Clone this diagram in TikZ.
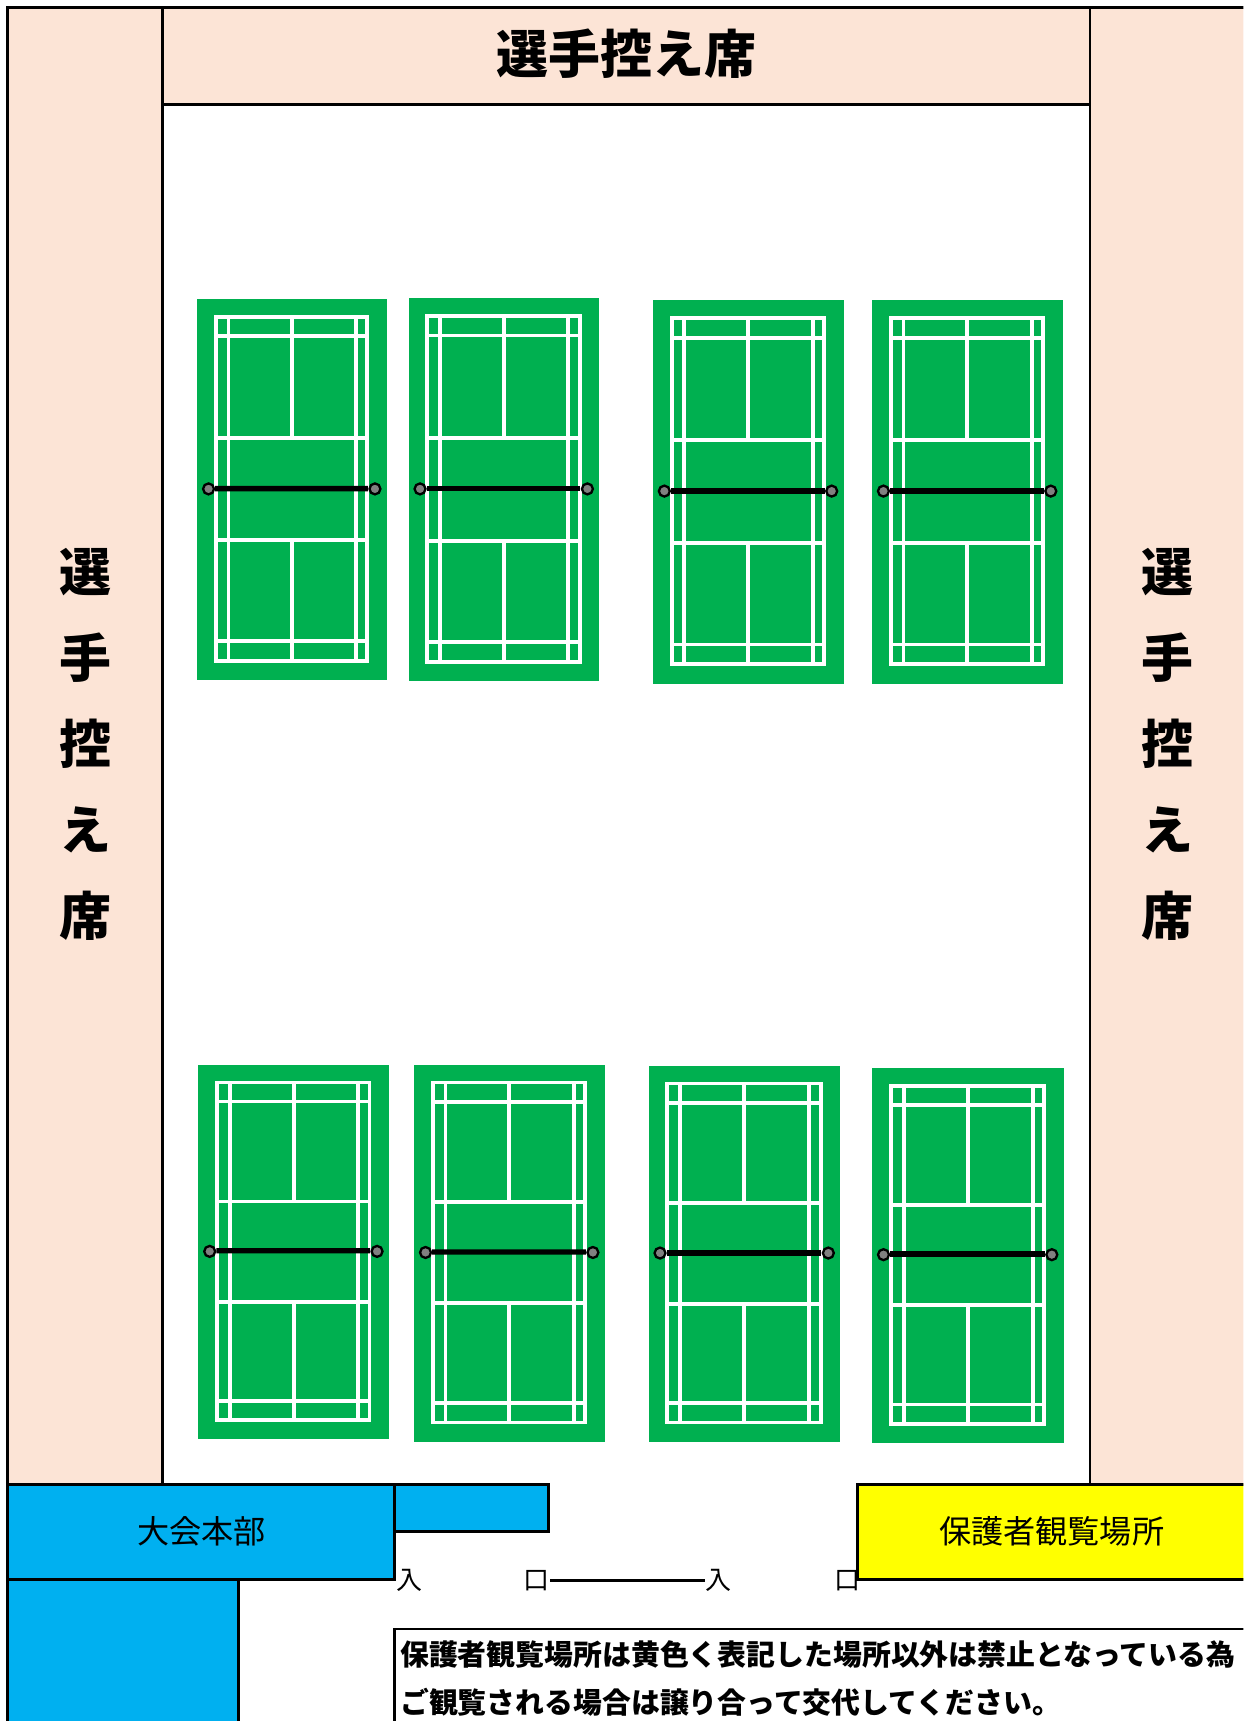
\documentclass[tikz,border=0pt]{standalone}
\usepackage{fontspec}
\setmainfont{Noto Sans CJK JP}
\definecolor{seat}{HTML}{FCE4D6}
\definecolor{courtgreen}{HTML}{00B050}
\definecolor{hqblue}{HTML}{00B0F0}
\definecolor{parentyellow}{HTML}{FFFF00}
\tikzset{
  wall/.style={draw=black, line width=1.5pt},
  seatlabel/.style={font=\fontsize{27}{32}\selectfont\bfseries, inner sep=0pt},
  arealabel/.style={font=\fontsize{16.7}{20}\selectfont, inner sep=0pt},
  gate/.style={font=\fontsize{13.5}{16}\selectfont, inner sep=0pt},
  note/.style={font=\fontsize{15}{25}\selectfont\bfseries, inner sep=0pt, align=left},
  courtline/.style={draw=white, line width=2pt},
  netline/.style={draw=black, line width=2.8pt},
  post/.style={circle, draw=black, fill=gray, line width=1.2pt, inner sep=0pt, minimum size=0.2cm}
}
\begin{document}
\begin{tikzpicture}[x=0.02cm, y=-0.02cm]
    \useasboundingbox (0,0) rectangle (1135,1571);
    \clip (0,0) rectangle (1135,1571);
    \fill[white] (0,0) rectangle (1135,1571);

    % 選手控え席
    \fill[seat] (7,7) rectangle (148,1355);
    \fill[seat] (148,7) rectangle (995,95);
    \fill[seat] (995,7) rectangle (1150,1355);
    \draw[wall] (7,1580) -- (7,7) -- (1150,7);
    \draw[wall] (148,7) -- (148,1355);
    \draw[wall] (995,7) -- (995,1355);
    \draw[wall] (148,95) -- (995,95);
    \node[seatlabel] (topseat) at (572,49) {選手控え席};
    \foreach \ch [count=\i] in {選,手,控,え,席} {
      \node[seatlabel] (lseat\i) at (78, 443.5+78.5*\i) {\ch};
      \node[seatlabel] (rseat\i) at (1066, 443.5+78.5*\i) {\ch};
    }

    % コート
    \foreach \n/\cx/\cy/\w/\h in {
      1/180/273/173/348,
      2/373/272/174/350,
      3/596/274/174/350,
      4/796/274/174/350,
      5/181/972/174/342,
      6/378/972/174/344,
      7/592/973/175/343,
      8/796/975/175/342
    } {
      \begin{scope}[shift={(\cx,\cy)}, xscale=\w, yscale=\h]
        \fill[courtgreen] (0,0) rectangle (1,1);
        \draw[courtline] (0.098,0.047) rectangle (0.898,0.949);
        \draw[courtline] (0.165,0.047) -- (0.165,0.949) (0.838,0.047) -- (0.838,0.949);
        \draw[courtline] (0.098,0.098) -- (0.898,0.098) (0.098,0.898) -- (0.898,0.898);
        \draw[courtline] (0.098,0.365) -- (0.898,0.365) (0.098,0.633) -- (0.898,0.633);
        \draw[courtline] (0.5,0.047) -- (0.5,0.365) (0.5,0.633) -- (0.5,0.949);
        \node[post] (net\n-w) at (0.06,0.498) {};
        \node[post] (net\n-e) at (0.938,0.498) {};
        \draw[netline] (net\n-w) -- (net\n-e);
      \end{scope}
    }

    % 大会本部・保護者観覧場所
    \draw[wall, fill=hqblue] (7,1355) rectangle (360,1442);
    \draw[wall, fill=hqblue] (360,1355) rectangle (501,1398);
    \draw[wall, fill=hqblue] (7,1442) rectangle (218,1590);
    \draw[wall, fill=parentyellow] (783,1355) rectangle (1150,1442);
    \node[arealabel] (hq) at (184,1398) {大会本部};
    \node[arealabel] (parents) at (960,1398) {保護者観覧場所};

    % 入口
    \node[gate] (in1) at (374,1443) {入};
    \node[gate] (door1) at (490,1443) {口};
    \node[gate] (in2) at (656,1443) {入};
    \node[gate] (door2) at (774,1443) {口};
    \draw[line width=1.5pt] (door1) -- (in2);

    % 注意書き
    \draw[wall] (360,1590) -- (360,1487) -- (1150,1487);
    \node[note, anchor=west] (notice) at (365,1532)
      {保護者観覧場所は黄色く表記した場所以外は禁止となっている為\\
       ご観覧される場合は譲り合って交代してください。};
\end{tikzpicture}
\end{document}
